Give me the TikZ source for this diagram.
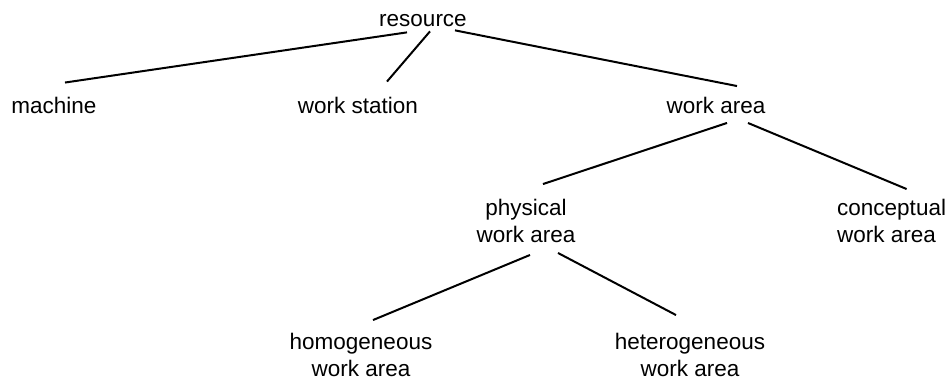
\documentclass[tikz,border=0pt]{standalone}
\usepackage{fontspec}
\setmainfont{Liberation Sans}
\begin{document}
\begin{tikzpicture}[x=1pt,y=-1pt,
  term/.style={inner sep=0pt, align=center, font=\fontsize{22.5}{27}\selectfont},
  branch/.style={line width=2pt}]
\useasboundingbox (0,0) rectangle (951,381);
%
\node[term] (resource) at (423,21) {resource};
\node[term] (machine) at (54,105) {machine};
\node[term] (station) at (358,105) {work station};
\node[term] (area) at (716,105.5) {work area};
%
\node[term] (physical) at (526,221) {physical\\work area};
\node[term, align=left, anchor=west] (conceptual) at (837,221) {conceptual\\work area};
%
\node[term] (homogeneous) at (361,355) {homogeneous\\work area};
\node[term] (heterogeneous) at (690,355) {heterogeneous\\work area};
%
\draw[branch] ([xshift=-16pt,yshift=-5pt]resource.south) -- ([xshift=11pt,yshift=14pt]machine.north);
\draw[branch] ([xshift=7pt,yshift=-4pt]resource.south) -- ([xshift=29pt,yshift=15pt]station.north);
\draw[branch] ([xshift=32pt,yshift=-3pt]resource.south) -- ([xshift=21pt,yshift=11pt]area.north);
%
\draw[branch] ([xshift=11pt,yshift=-9pt]area.south) -- ([xshift=17pt,yshift=15pt]physical.north);
\draw[branch] ([xshift=32pt,yshift=-9pt]area.south) -- ([xshift=15pt,yshift=10pt]conceptual.north);
%
\draw[branch] ([xshift=4pt,yshift=-12pt]physical.south) -- ([xshift=12pt,yshift=13pt]homogeneous.north);
\draw[branch] ([xshift=32pt,yshift=-10pt]physical.south) -- ([xshift=-14pt,yshift=18pt]heterogeneous.north);
\end{tikzpicture}
\end{document}
